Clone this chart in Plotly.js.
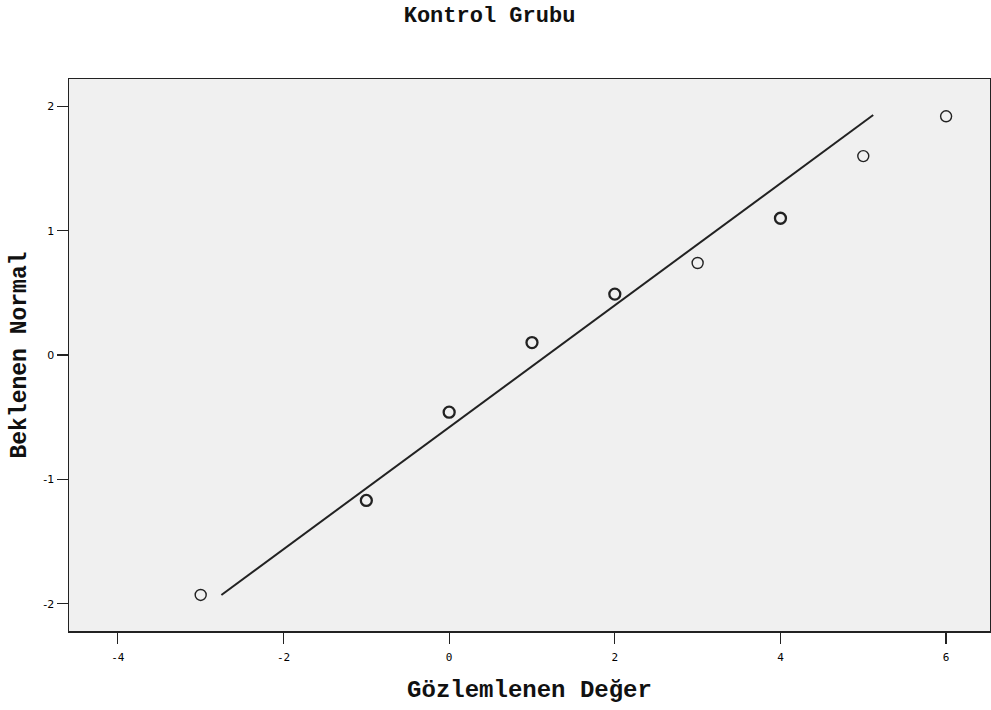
<!DOCTYPE html>
<html>
<head>
<meta charset="utf-8">
<script src="https://cdn.plot.ly/plotly-3.0.1.min.js"></script>
<style>html,body{margin:0;padding:0;background:#fff;}#chart{width:991px;height:710px;}</style>
</head>
<body>
<div id="chart"></div>
<script>
const observed = [-3, -1, 0, 1, 2, 3, 4, 5, 6];
const expectedNormal = [-1.93, -1.17, -0.46, 0.10, 0.49, 0.74, 1.10, 1.60, 1.92];
const tieCounts = [1, 2, 2, 2, 2, 1, 2, 1, 1];
const lineX = [-2.75, 5.12];
const lineY = [-1.93, 1.93];
const xTicks = [-4, -2, 0, 2, 4, 6];
const yTicks = [-2, -1, 0, 1, 2];

const mono = "Liberation Mono, Courier New, monospace";

const traces = [
  {
    x: lineX, y: lineY, mode: 'lines', type: 'scatter',
    line: {color: '#222', width: 2}, hoverinfo: 'skip'
  },
  {
    x: observed, y: expectedNormal, mode: 'markers', type: 'scatter',
    marker: {
      symbol: 'circle-open', size: 11, color: '#222',
      line: {color: '#222', width: tieCounts.map(c => c > 1 ? 2.3 : 1.4)}
    }
  }
];

const layout = {
  width: 991, height: 710,
  margin: {l: 69, r: 1, t: 79, b: 79},
  paper_bgcolor: '#ffffff', plot_bgcolor: '#f0f0f0',
  showlegend: false,
  title: {text: '<b>Kontrol Grubu</b>', x: 0.494, xanchor: 'center', y: 0.98, yanchor: 'middle',
          font: {family: mono, size: 22, color: '#111'}},
  xaxis: {
    range: [-4.59, 6.53], tickvals: xTicks, ticktext: xTicks.map(String),
    showgrid: false, zeroline: false, showline: true, mirror: true,
    linecolor: '#222', linewidth: 1.5, ticks: 'outside', ticklen: 11, tickcolor: '#222', tickwidth: 1.2,
    ticklabelstandoff: 4,
    tickfont: {family: 'DejaVu Sans Mono, monospace', size: 11, color: '#000'},
    title: {text: '<b>Gözlemlenen Değer</b>', standoff: 17, font: {family: mono, size: 24, color: '#111'}}
  },
  yaxis: {
    range: [-2.22, 2.22], tickvals: yTicks, ticktext: yTicks.map(String),
    showgrid: false, zeroline: false, showline: true, mirror: true,
    linecolor: '#222', linewidth: 1.5, ticks: 'outside', ticklen: 11, tickcolor: '#222', tickwidth: 1.2,
    tickfont: {family: 'DejaVu Sans, sans-serif', size: 11, color: '#000'},
    title: {text: '<b>Beklenen Normal</b>', standoff: 10, font: {family: mono, size: 23, color: '#111'}}
  }
};

Plotly.newPlot('chart', traces, layout, {displayModeBar: false, staticPlot: true});
</script>
</body>
</html>
